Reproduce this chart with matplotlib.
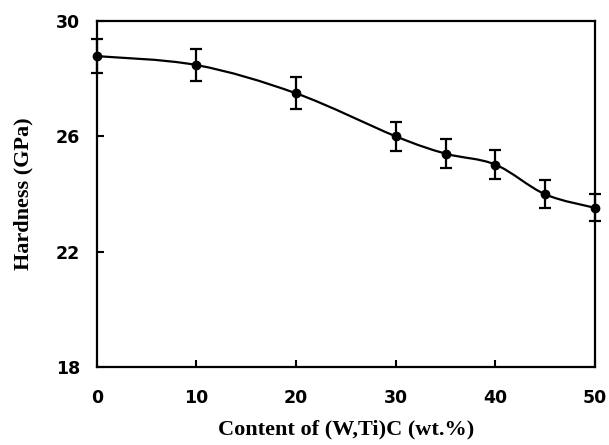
import matplotlib
matplotlib.use('Agg')
import matplotlib.pyplot as plt
from matplotlib.path import Path
from matplotlib.patches import PathPatch
import numpy as np

# hardness vs (W,Ti)C content
content = [0, 10, 20, 30, 35, 40, 45, 50]
hardness = [28.78, 28.47, 27.49, 26.0, 25.40, 25.02, 23.99, 23.52]
err = [0.58, 0.55, 0.56, 0.5, 0.5, 0.5, 0.48, 0.47]

x_ticks = [0, 10, 20, 30, 40, 50]
y_ticks = [18, 22, 26, 30]

fig = plt.figure(figsize=(6.09, 4.45), dpi=100)
ax = fig.add_axes([0.159, 0.175, 0.818, 0.778])

# smooth curve through the points (Catmull-Rom as cubic bezier segments)
pts = np.column_stack([content, hardness])
verts = [pts[0]]
codes = [Path.MOVETO]
for i in range(len(pts) - 1):
    p0 = pts[i - 1] if i > 0 else pts[i]
    p1 = pts[i]
    p2 = pts[i + 1]
    p3 = pts[i + 2] if i + 2 < len(pts) else pts[i + 1]
    c1 = p1 + (p2 - p0) / 6.0
    c2 = p2 - (p3 - p1) / 6.0
    verts += [c1, c2, p2]
    codes += [Path.CURVE4] * 3
curve = PathPatch(Path(verts, codes), facecolor='none', edgecolor='black',
                  lw=1.6, transform=ax.transData, clip_on=False)
ax.add_patch(curve)

ax.errorbar(content, hardness, yerr=err, fmt='o', color='black', ms=6,
            capsize=4.5, elinewidth=1.6, capthick=1.6, clip_on=False, zorder=3)

ax.set_xlim(0, 50)
ax.set_ylim(18, 30)
ax.set_xticks(x_ticks)
ax.set_yticks(y_ticks)

for s in ax.spines.values():
    s.set_linewidth(1.6)

ax.tick_params(direction='in', length=5, width=1.5, top=False, right=False)
ax.tick_params(axis='x', pad=16)
ax.tick_params(axis='y', pad=12)
for lab in ax.get_xticklabels() + ax.get_yticklabels():
    lab.set_fontfamily('DejaVu Sans')
    lab.set_fontweight('bold')
    lab.set_fontsize(12.5)

ax.set_xlabel('Content of (W,Ti)C (wt.%)', family='Liberation Serif',
              fontweight='bold', fontsize=16, labelpad=9)
ax.set_ylabel('Hardness (GPa)', family='Liberation Serif',
              fontweight='bold', fontsize=16, labelpad=16)

fig.savefig('out.png', dpi=100)
